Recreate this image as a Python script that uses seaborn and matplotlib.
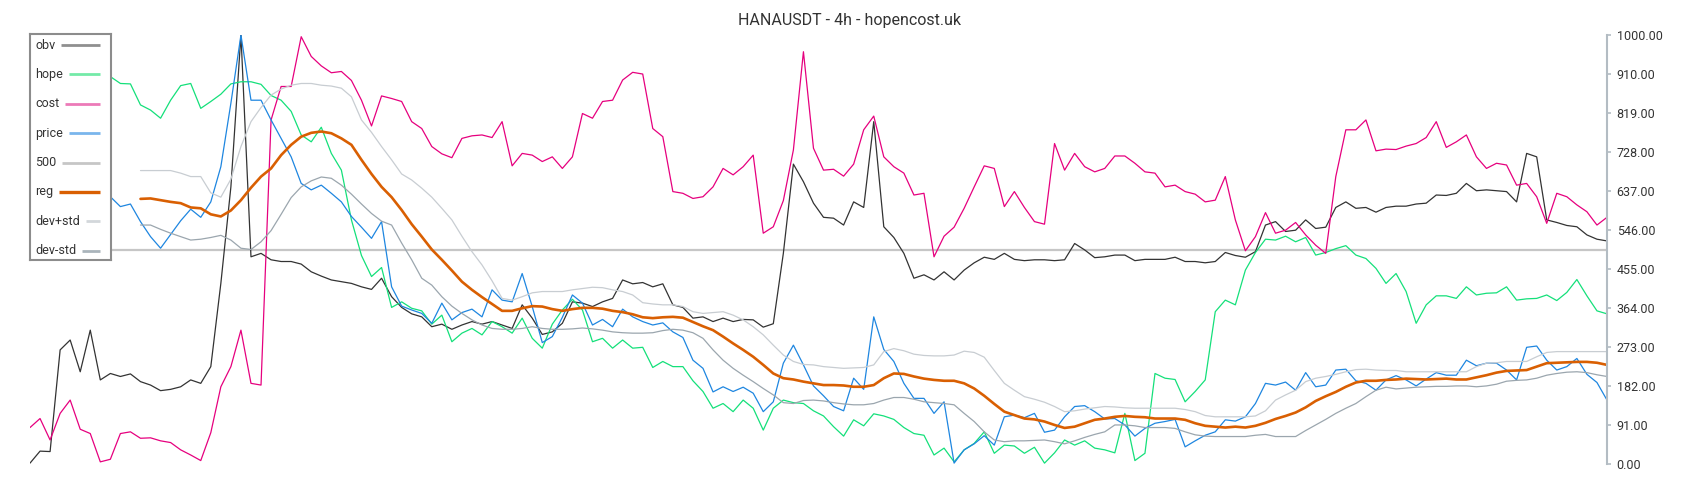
import numpy as np
import pandas as pd
import seaborn as sns
import matplotlib.pyplot as plt

# values (one value per bar, 158 bars)
obv = [2, 30, 29, 266, 289, 215, 312, 196, 211, 204,
       210, 192, 184, 171, 174, 180, 196, 188, 227, 421,
       646, 1000, 483, 491, 476, 472, 472, 466, 448, 438,
       429, 425, 421, 413, 407, 433, 390, 365, 350, 343,
       320, 326, 314, 324, 332, 326, 332, 324, 316, 371,
       340, 302, 308, 328, 378, 375, 367, 378, 386, 429,
       420, 423, 413, 420, 371, 365, 340, 343, 332, 340,
       332, 337, 336, 319, 327, 491, 699, 658, 608, 575,
       573, 557, 611, 598, 798, 553, 528, 491, 433, 441,
       429, 448, 429, 452, 469, 482, 477, 491, 477, 474,
       476, 476, 474, 476, 514, 499, 481, 483, 487, 487,
       474, 477, 477, 477, 482, 472, 472, 469, 472, 493,
       486, 482, 495, 557, 565, 542, 545, 569, 549, 552,
       598, 611, 596, 598, 587, 598, 601, 601, 606, 608,
       627, 626, 631, 654, 637, 639, 637, 635, 611, 724,
       716, 569, 563, 556, 553, 534, 524, 520]

hope = [890, 900, 885, 905, 880, 870, 890, 900, 903, 887,
        886, 837, 825, 806, 848, 882, 887, 829, 845, 862,
        886, 891, 891, 885, 859, 848, 822, 767, 751, 785,
        724, 685, 569, 486, 437, 458, 365, 378, 363, 357,
        326, 347, 285, 305, 316, 301, 332, 320, 305, 340,
        293, 270, 326, 359, 384, 359, 285, 293, 270, 289,
        270, 272, 225, 239, 227, 227, 194, 169, 130, 141,
        122, 149, 130, 79, 130, 149, 143, 141, 124, 112,
        87, 65, 103, 89, 117, 112, 104, 85, 71, 67,
        21, 37, 5, 33, 48, 75, 25, 44, 42, 25,
        39, 2, 26, 56, 44, 54, 37, 33, 26, 118,
        8, 25, 211, 200, 197, 145, 169, 196, 355, 382,
        371, 452, 493, 524, 522, 531, 518, 528, 487, 493,
        502, 509, 487, 479, 456, 421, 444, 402, 328, 371,
        392, 392, 386, 413, 394, 398, 399, 413, 382, 385,
        386, 394, 381, 400, 430, 392, 357, 350]

cost = [85, 106, 56, 118, 149, 81, 71, 5, 11, 71,
        75, 60, 61, 54, 50, 33, 21, 8, 73, 180,
        227, 312, 188, 184, 802, 880, 880, 996, 950, 928,
        912, 915, 894, 848, 788, 858, 852, 845, 798, 782,
        740, 723, 714, 759, 765, 767, 761, 798, 695, 724,
        720, 705, 716, 689, 716, 817, 806, 845, 848, 895,
        913, 909, 782, 763, 635, 631, 619, 623, 646, 689,
        674, 693, 720, 538, 553, 614, 732, 961, 736, 685,
        687, 671, 699, 779, 811, 716, 693, 678, 627, 631,
        483, 531, 552, 596, 646, 695, 689, 600, 635, 598,
        565, 559, 747, 685, 724, 693, 681, 689, 718, 718,
        701, 681, 678, 646, 650, 635, 629, 611, 615, 670,
        569, 497, 530, 586, 538, 545, 563, 534, 510, 491,
        670, 779, 779, 802, 730, 734, 733, 741, 747, 761,
        798, 738, 751, 767, 716, 689, 701, 697, 650, 654,
        623, 561, 631, 623, 604, 588, 557, 575]

price = [640, 630, 620, 645, 600, 610, 625, 615, 623, 600,
         606, 565, 530, 503, 535, 567, 594, 575, 611, 693,
         841, 1000, 848, 848, 802, 759, 716, 654, 639, 650,
         631, 611, 577, 552, 526, 565, 413, 368, 359, 351,
         328, 375, 336, 353, 361, 343, 406, 382, 378, 444,
         367, 283, 297, 342, 394, 375, 324, 337, 320, 361,
         343, 332, 324, 329, 308, 295, 242, 223, 168, 180,
         169, 179, 165, 122, 145, 235, 277, 231, 182, 159,
         134, 124, 200, 174, 343, 267, 239, 188, 153, 153,
         118, 145, 2, 33, 47, 66, 44, 110, 114, 108,
         118, 74, 79, 110, 134, 136, 122, 105, 106, 91,
         65, 83, 95, 99, 104, 40, 54, 67, 75, 103,
         100, 110, 141, 188, 184, 191, 172, 213, 180, 184,
         219, 221, 194, 188, 172, 196, 206, 196, 182, 198,
         213, 207, 207, 242, 229, 235, 235, 219, 196, 272,
         275, 242, 219, 227, 246, 209, 190, 149]

# regression line and bands start at bar 11
band_start = 11
reg = [618, 619, 615, 611, 608, 598, 596, 582, 577,
       591, 615, 644, 670, 689, 720, 744, 763, 772, 775,
       771, 759, 744, 709, 676, 646, 622, 592, 559, 530,
       500, 476, 451, 425, 406, 389, 373, 357, 357, 363,
       368, 367, 361, 357, 361, 364, 364, 362, 357, 354,
       349, 342, 340, 342, 343, 341, 331, 321, 312, 297,
       281, 266, 250, 231, 211, 200, 197, 192, 188, 184,
       184, 183, 180, 180, 184, 200, 211, 210, 204, 199,
       196, 194, 194, 188, 176, 159, 140, 122, 114, 106,
       104, 99, 91, 84, 87, 95, 103, 106, 110, 112,
       110, 109, 106, 106, 106, 103, 95, 89, 87, 85,
       87, 85, 89, 96, 105, 112, 120, 132, 147, 158,
       168, 180, 190, 194, 194, 196, 197, 199, 198, 197,
       198, 199, 197, 197, 202, 207, 213, 217, 218, 219,
       227, 235, 236, 237, 238, 238, 236, 231]

dev_plus = [684, 684, 684, 684, 678, 670, 670, 632, 622,
            664, 740, 798, 831, 860, 874, 883, 887, 887, 883,
            881, 876, 856, 802, 773, 740, 709, 676, 662, 643,
            622, 596, 569, 531, 495, 464, 427, 386, 382, 390,
            399, 402, 402, 402, 406, 409, 412, 411, 406, 402,
            394, 376, 373, 371, 371, 367, 355, 351, 353, 355,
            347, 336, 320, 301, 277, 254, 239, 232, 231, 227,
            225, 223, 224, 225, 231, 262, 269, 264, 256, 253,
            252, 252, 254, 263, 260, 249, 218, 188, 172, 157,
            151, 144, 134, 122, 124, 128, 131, 134, 133, 131,
            130, 130, 130, 130, 130, 127, 122, 113, 110, 110,
            110, 110, 112, 124, 149, 161, 172, 192, 200, 204,
            209, 215, 220, 221, 219, 218, 218, 215, 215, 215,
            215, 215, 215, 215, 227, 235, 236, 239, 239, 239,
            250, 260, 262, 262, 262, 262, 262, 262]

dev_minus = [557, 557, 547, 538, 530, 522, 524, 528, 533,
             522, 503, 500, 518, 544, 582, 621, 646, 660, 669,
             666, 650, 629, 606, 584, 566, 557, 515, 476, 433,
             417, 390, 368, 351, 336, 324, 316, 314, 314, 316,
             320, 316, 314, 314, 315, 317, 315, 312, 308, 306,
             305, 305, 306, 311, 314, 312, 306, 293, 266, 242,
             223, 207, 192, 176, 161, 143, 141, 148, 149, 147,
             143, 140, 138, 138, 141, 149, 155, 155, 151, 145,
             143, 141, 138, 118, 99, 75, 56, 52, 54, 54,
             55, 56, 52, 47, 54, 62, 69, 75, 91, 91,
             89, 85, 85, 85, 83, 75, 68, 65, 64, 64,
             64, 64, 67, 69, 64, 64, 64, 78, 91, 104,
             118, 130, 141, 157, 172, 179, 175, 177, 179, 180,
             181, 181, 182, 182, 180, 182, 186, 193, 195, 196,
             200, 207, 211, 214, 215, 213, 208, 204]

level_500 = 500
y_ticks = [0, 91, 182, 273, 364, 455, 546, 637, 728, 819, 910, 1000]
title = "HANAUSDT - 4h - hopencost.uk"

sns.set_theme(style="white")
plt.rcParams["font.family"] = ["Roboto", "DejaVu Sans"]

n = len(obv)
pad = [np.nan] * band_start
df = pd.DataFrame({
    "bar": np.arange(n),
    "obv": obv,
    "hope": hope,
    "cost": cost,
    "price": price,
    "reg": pad + reg,
    "dev+std": pad + dev_plus,
    "dev-std": pad + dev_minus,
})

# name, colour, line width, legend colour, legend width
styles = [
    ("obv", "#333333", 0.9, "#8f8f8f", 2.0),
    ("hope", "#14e07a", 0.9, "#74eaa8", 2.0),
    ("cost", "#e6007e", 0.9, "#ec7ab8", 2.0),
    ("price", "#1e86e0", 0.9, "#7ab6ec", 2.0),
    ("500", "#c6c6c6", 1.6, "#c6c6c6", 2.0),
    ("reg", "#d95f02", 1.9, "#d95f02", 2.4),
    ("dev+std", "#c8cdd2", 0.9, "#d3d7db", 2.0),
    ("dev-std", "#9ba6ae", 0.9, "#aab4bb", 2.0),
]

fig = plt.figure(figsize=(17, 5), dpi=100)
ax = fig.add_axes([30 / 1700, 36 / 500, 1577 / 1700, 429 / 500])

ax.axhline(level_500, color="#c6c6c6", lw=1.6, zorder=1)
for name, color, lw, _, _ in styles:
    if name == "500":
        continue
    sns.lineplot(data=df, x="bar", y=name, ax=ax, color=color, lw=lw,
                 estimator=None, sort=False)

ax.set_xlim(0, n - 1)
ax.set_ylim(0, 1000)
ax.set_xlabel("")
ax.set_ylabel("")
ax.set_xticks([])
ax.yaxis.tick_right()
ax.set_yticks(y_ticks)
ax.set_yticklabels([f"{v:.2f}" for v in y_ticks])
ax.tick_params(axis="y", direction="out", length=3, width=1.2, color="#b3bcc3",
               labelsize=9, labelcolor="#333333", pad=4)
for side in ["top", "left", "bottom"]:
    ax.spines[side].set_visible(False)
ax.spines["right"].set_color("#b3bcc3")
ax.spines["right"].set_linewidth(1.5)

fig.text(0.5, 0.959, title, ha="center", va="center", fontsize=11.5, color="#333333")

# legend box: text on the left, line running to a common right edge
leg = fig.add_axes([30 / 1700, 240 / 500, 81 / 1700, 226 / 500])
leg.set_xlim(0, 81)
leg.set_ylim(226, 0)
leg.set_xticks([])
leg.set_yticks([])
leg.set_facecolor("white")
for s in leg.spines.values():
    s.set_color("#8c8c8c")
    s.set_linewidth(1.5)

renderer = fig.canvas.get_renderer()
for k, (name, _, _, lcolor, llw) in enumerate(styles):
    y = 11 + 29.4 * k
    t = leg.text(5, y, name, ha="left", va="center", fontsize=9, color="#333333")
    w = t.get_window_extent(renderer).width
    leg.plot([5 + w + 6, 70], [y, y], color=lcolor, lw=llw, solid_capstyle="butt")

fig.savefig("out.png", dpi=100)
plt.close(fig)
